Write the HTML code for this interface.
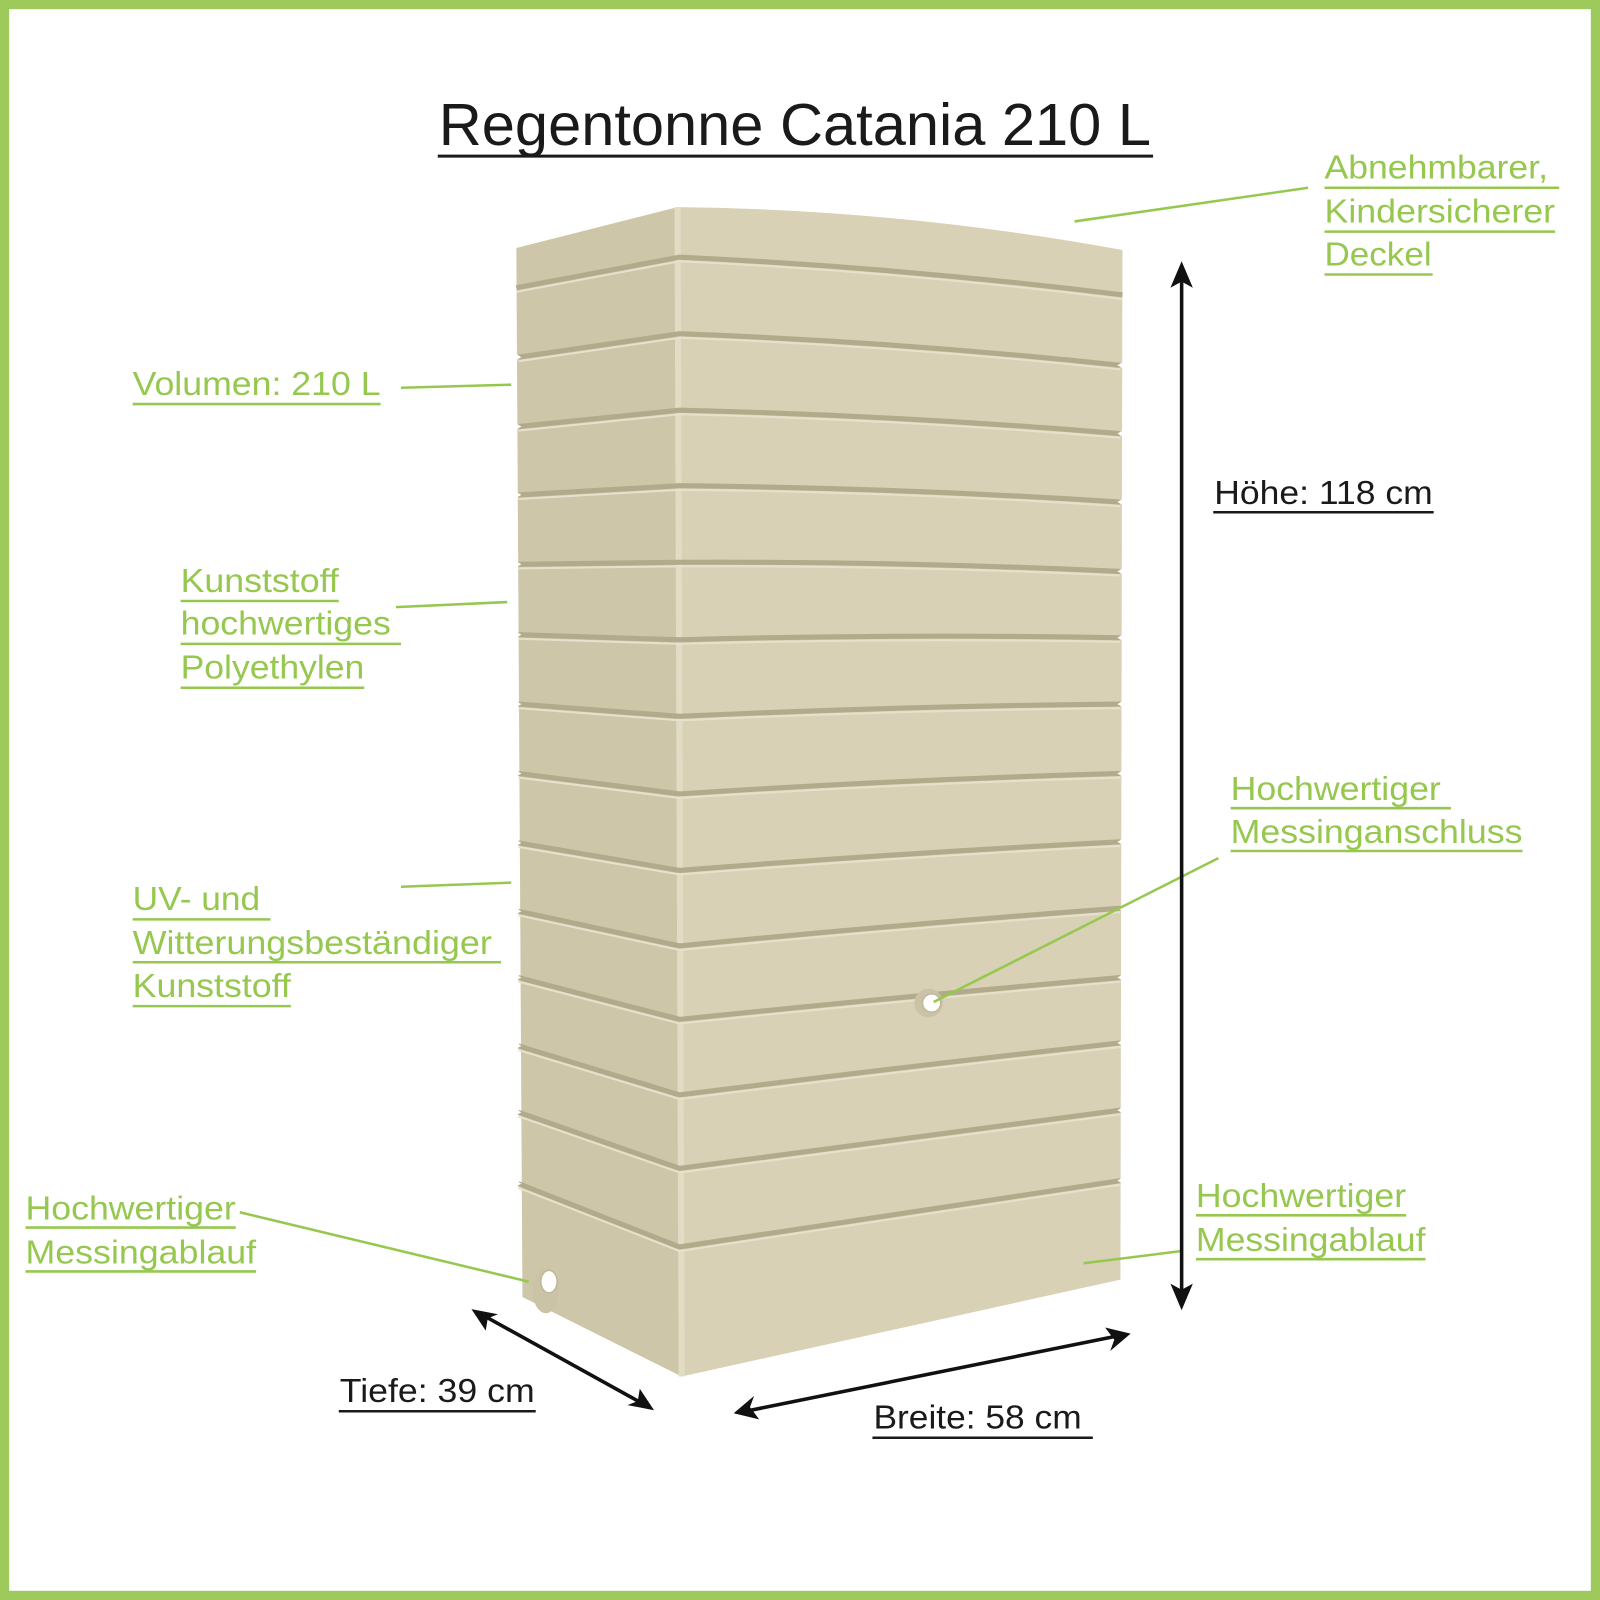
<!DOCTYPE html>
<html><head><meta charset="utf-8"><style>
html,body{margin:0;padding:0;background:#fff;}
svg{display:block;}
text{font-family:"Liberation Sans",Arial,sans-serif;}
.g{fill:#96c850;font-size:33px;}
.k{fill:#1a1a1a;font-size:33px;}
.gl{stroke:#96c850;stroke-width:2.5;}
.kl{stroke:#1a1a1a;stroke-width:2.5;}
.gr{fill:none;stroke:#b2aa8b;stroke-width:5;}
.hl{fill:none;stroke:#e6e1cc;stroke-width:2;}
</style></head><body>
<svg width="1600" height="1600" viewBox="0 0 1568 1568" xmlns="http://www.w3.org/2000/svg">
<rect x="0" y="0" width="1568" height="1568" fill="#fff"/>
<rect x="4.5" y="4.5" width="1559" height="1559" fill="none" stroke="#9dca5a" stroke-width="9"/>

<text x="430" y="142" font-size="58" fill="#1a1a1a" textLength="698" lengthAdjust="spacingAndGlyphs">Regentonne Catania 210 L</text>
<line x1="429" y1="153" x2="1130" y2="153" stroke="#1a1a1a" stroke-width="3"/>

<!-- barrel -->
<path d="M506,243 L664,203 L668,1349 L512,1271 Z" fill="#cdc6a9"/>
<path d="M664,203 Q881,205 1100,245 L1098,1254 L668,1349 Z" fill="#d8d1b6"/>
<path d="M664,203 L668,1349" stroke="#e2dcc4" stroke-width="6"/>
<g>
<path class="gr" d="M506,282 L666,252 Q881,262 1100,289"/>
<path class="gr" d="M508,350 L666,327 Q881,335 1098,358"/>
<path class="gr" d="M508,418 L666,402 Q881,407 1098,425"/>
<path class="gr" d="M508,485 L666,476 Q881,478 1098,492"/>
<path class="gr" d="M508,553 L666,551 Q881,550 1098,560"/>
<path class="gr" d="M508,622 L666,627 Q881,621 1098,625"/>
<path class="gr" d="M508,690 L666,702 Q881,692 1098,690"/>
<path class="gr" d="M508,758 L666,778 Q881,764 1098,758"/>
<path class="gr" d="M508,826 L666,853 Q881,836 1098,825"/>
<path class="gr" d="M508,893 L666,927 Q881,906 1098,890"/>
<path class="gr" d="M508,958 L666,999 Q881,977 1098,958"/>
<path class="gr" d="M508,1025 L666,1073 Q881,1046 1098,1022"/>
<path class="gr" d="M508,1090 L666,1145 Q881,1116 1098,1088"/>
<path class="gr" d="M508,1160 L666,1222 Q881,1190 1098,1157"/>
</g>
<g transform="translate(0,4)">
<path class="hl" d="M506,282 L666,252 Q881,262 1100,289"/>
<path class="hl" d="M508,350 L666,327 Q881,335 1098,358"/>
<path class="hl" d="M508,418 L666,402 Q881,407 1098,425"/>
<path class="hl" d="M508,485 L666,476 Q881,478 1098,492"/>
<path class="hl" d="M508,553 L666,551 Q881,550 1098,560"/>
<path class="hl" d="M508,622 L666,627 Q881,621 1098,625"/>
<path class="hl" d="M508,690 L666,702 Q881,692 1098,690"/>
<path class="hl" d="M508,758 L666,778 Q881,764 1098,758"/>
<path class="hl" d="M508,826 L666,853 Q881,836 1098,825"/>
<path class="hl" d="M508,893 L666,927 Q881,906 1098,890"/>
<path class="hl" d="M508,958 L666,999 Q881,977 1098,958"/>
<path class="hl" d="M508,1025 L666,1073 Q881,1046 1098,1022"/>
<path class="hl" d="M508,1090 L666,1145 Q881,1116 1098,1088"/>
<path class="hl" d="M508,1160 L666,1222 Q881,1190 1098,1157"/>
</g>
<g fill="#fff">
<polygon points="500,344 511,350 500,356"/><polygon points="500,412 511,418 500,424"/>
<polygon points="500,479 511,485 500,491"/><polygon points="500,547 511,553 500,559"/>
<polygon points="500,616 511,622 500,628"/><polygon points="500,684 511,690 500,696"/>
<polygon points="500,752 511,758 500,764"/><polygon points="500,820 511,826 500,832"/>
<polygon points="500,887 511,893 500,899"/><polygon points="500,952 511,958 500,964"/>
<polygon points="500,1019 511,1025 500,1031"/><polygon points="500,1084 511,1090 500,1096"/>
<polygon points="500,1154 511,1160 500,1166"/>
<polygon points="1106,352 1095,358 1106,364"/><polygon points="1106,419 1095,425 1106,431"/>
<polygon points="1106,486 1095,492 1106,498"/><polygon points="1106,554 1095,560 1106,566"/>
<polygon points="1106,619 1095,625 1106,631"/><polygon points="1106,684 1095,690 1106,696"/>
<polygon points="1106,752 1095,758 1106,764"/><polygon points="1106,819 1095,825 1106,831"/>
<polygon points="1106,884 1095,890 1106,896"/><polygon points="1106,952 1095,958 1106,964"/>
<polygon points="1106,1016 1095,1022 1106,1028"/><polygon points="1106,1082 1095,1088 1106,1094"/>
<polygon points="1106,1151 1095,1157 1106,1163"/>
</g>
<circle cx="910" cy="983" r="14" fill="#cbc3a5"/>
<circle cx="913" cy="983" r="9" fill="#fff" stroke="#bfb79a" stroke-width="1.5"/>
<ellipse cx="535" cy="1265" rx="13" ry="22" fill="#cbc3a5"/>
<ellipse cx="538" cy="1256" rx="8" ry="11" fill="#fff" stroke="#bfb79a" stroke-width="1.5"/>

<line class="gl" x1="1282" y1="184" x2="1053" y2="217"/>
<line class="gl" x1="393" y1="380" x2="501" y2="377"/>
<line class="gl" x1="388" y1="595" x2="497" y2="590"/>
<line class="gl" x1="393" y1="869" x2="501" y2="865"/>
<line class="gl" x1="235" y1="1188" x2="518" y2="1256"/>
<line class="gl" x1="1158" y1="1226" x2="1062" y2="1238"/>
<line class="gl" x1="1194" y1="841" x2="915" y2="982"/>

<text class="g" x="1298" y="175" textLength="219" lengthAdjust="spacingAndGlyphs">Abnehmbarer,</text>
<line class="gl" x1="1298" y1="184" x2="1528" y2="184"/>
<text class="g" x="1298" y="218" textLength="226" lengthAdjust="spacingAndGlyphs">Kindersicherer</text>
<line class="gl" x1="1298" y1="227" x2="1524" y2="227"/>
<text class="g" x="1298" y="260" textLength="105" lengthAdjust="spacingAndGlyphs">Deckel</text>
<line class="gl" x1="1298" y1="269" x2="1404" y2="269"/>

<text class="g" x="130" y="387" textLength="243" lengthAdjust="spacingAndGlyphs">Volumen: 210 L</text>
<line class="gl" x1="130" y1="396" x2="373" y2="396"/>

<text class="g" x="177" y="580" textLength="155" lengthAdjust="spacingAndGlyphs">Kunststoff</text>
<line class="gl" x1="177" y1="589" x2="332" y2="589"/>
<text class="g" x="177" y="622" textLength="206" lengthAdjust="spacingAndGlyphs">hochwertiges</text>
<line class="gl" x1="177" y1="631" x2="393" y2="631"/>
<text class="g" x="177" y="665" textLength="180" lengthAdjust="spacingAndGlyphs">Polyethylen</text>
<line class="gl" x1="177" y1="674" x2="357" y2="674"/>

<text class="g" x="130" y="892" textLength="125" lengthAdjust="spacingAndGlyphs">UV- und</text>
<line class="gl" x1="130" y1="901" x2="265" y2="901"/>
<text class="g" x="130" y="935" textLength="352" lengthAdjust="spacingAndGlyphs">Witterungsbeständiger</text>
<line class="gl" x1="130" y1="943" x2="491" y2="943"/>
<text class="g" x="130" y="977" textLength="155" lengthAdjust="spacingAndGlyphs">Kunststoff</text>
<line class="gl" x1="130" y1="986" x2="285" y2="986"/>

<text class="g" x="25" y="1195" textLength="206" lengthAdjust="spacingAndGlyphs">Hochwertiger</text>
<line class="gl" x1="25" y1="1203" x2="231" y2="1203"/>
<text class="g" x="25" y="1238" textLength="226" lengthAdjust="spacingAndGlyphs">Messingablauf</text>
<line class="gl" x1="25" y1="1246" x2="251" y2="1246"/>

<text class="g" x="1172" y="1183" textLength="206" lengthAdjust="spacingAndGlyphs">Hochwertiger</text>
<line class="gl" x1="1172" y1="1191" x2="1378" y2="1191"/>
<text class="g" x="1172" y="1226" textLength="225" lengthAdjust="spacingAndGlyphs">Messingablauf</text>
<line class="gl" x1="1172" y1="1234" x2="1397" y2="1234"/>

<text class="g" x="1206" y="784" textLength="206" lengthAdjust="spacingAndGlyphs">Hochwertiger</text>
<line class="gl" x1="1206" y1="792" x2="1422" y2="792"/>
<text class="g" x="1206" y="826" textLength="286" lengthAdjust="spacingAndGlyphs">Messinganschluss</text>
<line class="gl" x1="1206" y1="834" x2="1492" y2="834"/>

<line x1="1158" y1="262" x2="1158" y2="1278" stroke="#111" stroke-width="3.5"/>
<polygon points="1158,256 1147,282 1158,276 1169,282" fill="#111"/>
<polygon points="1158,1284 1147,1258 1158,1264 1169,1258" fill="#111"/>
<text class="k" x="1190" y="494" textLength="214" lengthAdjust="spacingAndGlyphs">Höhe: 118 cm</text>
<line class="kl" x1="1189" y1="502" x2="1405" y2="502"/>

<line x1="468" y1="1286" x2="636" y2="1379" stroke="#111" stroke-width="3.5"/>
<polygon points="462,1283 488,1288 478,1292 476,1304" fill="#111"/>
<polygon points="641,1382 615,1377 625,1373 627,1361" fill="#111"/>
<text class="k" x="333" y="1374" textLength="191" lengthAdjust="spacingAndGlyphs">Tiefe: 39 cm</text>
<line class="kl" x1="332" y1="1383" x2="525" y2="1383"/>

<line x1="726" y1="1384" x2="1101" y2="1308" stroke="#111" stroke-width="3.5"/>
<polygon points="719,1385 739,1368 735,1379 744,1391" fill="#111"/>
<polygon points="1108,1307 1088,1324 1092,1313 1083,1301" fill="#111"/>
<text class="k" x="856" y="1400" textLength="204" lengthAdjust="spacingAndGlyphs">Breite: 58 cm</text>
<line class="kl" x1="855" y1="1409" x2="1071" y2="1409"/>
</svg>
</body></html>
